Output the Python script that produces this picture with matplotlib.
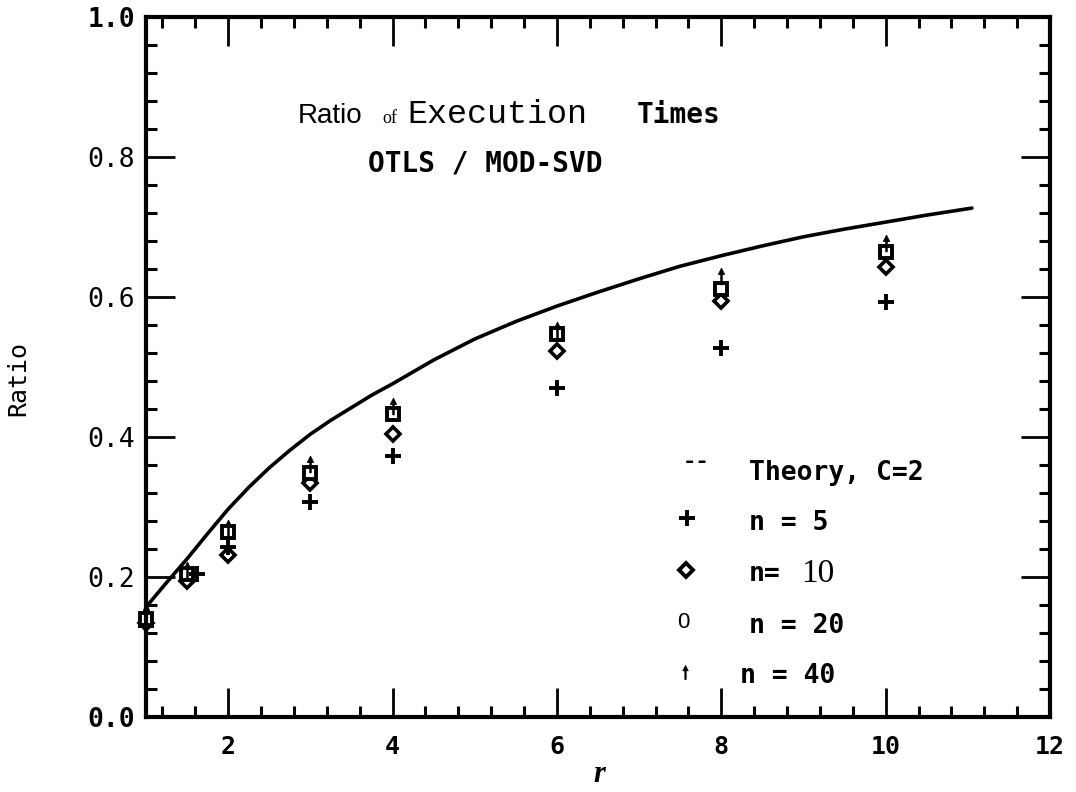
import matplotlib
matplotlib.use("Agg")
import matplotlib.pyplot as plt
from matplotlib.path import Path
from matplotlib.ticker import MultipleLocator

# theory curve, C = 2
r_theory = [1.0, 1.25, 1.5, 1.75, 2.0, 2.25, 2.5, 2.75, 3.0, 3.25, 3.5, 3.75, 4.0,
            4.5, 5.0, 5.5, 6.0, 6.5, 7.0, 7.5, 8.0, 8.5, 9.0, 9.5, 10.0, 10.5, 11.05]
ratio_theory = [0.157, 0.192, 0.226, 0.262, 0.297, 0.328, 0.356, 0.381, 0.404, 0.424,
                0.442, 0.460, 0.476, 0.510, 0.540, 0.565, 0.587, 0.607, 0.626, 0.644,
                0.659, 0.673, 0.686, 0.697, 0.707, 0.717, 0.727]

# measured ratios
r_meas = [1, 1.5, 2, 3, 4, 6, 8, 10]
r_n5 = [1, 1.62, 2, 3, 4, 6, 8, 10]
ratio_n5 = [0.13, 0.205, 0.243, 0.307, 0.373, 0.470, 0.527, 0.593]
ratio_n10 = [0.135, 0.194, 0.232, 0.335, 0.404, 0.523, 0.594, 0.643]
ratio_n20 = [0.14, 0.204, 0.264, 0.348, 0.433, 0.547, 0.612, 0.665]
ratio_n40 = [0.15, 0.21, 0.27, 0.362, 0.444, 0.553, 0.630, 0.677]

x_ticks = [2, 4, 6, 8, 10, 12]
y_ticks = [0.0, 0.2, 0.4, 0.6, 0.8, 1.0]
y_labels = ["0.0", "0.2", "0.4", "0.6", "0.8", "1.0"]

MONO = "DejaVu Sans Mono"

# small up arrow marker
arrow = Path([(-0.09, -1.0), (0.09, -1.0), (0.09, 0.25), (0.38, 0.25), (0.0, 1.0),
              (-0.38, 0.25), (-0.09, 0.25), (-0.09, -1.0)],
             [Path.MOVETO] + [Path.LINETO] * 6 + [Path.CLOSEPOLY])

fig = plt.figure(figsize=(10.76, 7.92), dpi=100)
ax = fig.add_axes([146 / 1076, 75 / 792, 904 / 1076, 700 / 792])

ax.plot(r_theory, ratio_theory, color="black", lw=2.6, solid_capstyle="round",
        solid_joinstyle="round")

pt = dict(ls="none", color="black", clip_on=False)
ax.plot(r_meas, ratio_n10, marker="D", ms=7, mew=2.6, mfc="white", **pt)
ax.plot(r_meas, ratio_n20, marker="s", ms=8.5, mew=2.8, mfc="white", **pt)
ax.plot(r_n5, ratio_n5, marker="+", ms=11, mew=2.8, **pt)
ax.plot(r_meas, ratio_n40, marker=arrow, ms=12, mew=0.6, **pt)

ax.set_xlim(1, 12)
ax.set_ylim(0, 1)
ax.set_xticks(x_ticks)
ax.set_xticklabels([str(t) for t in x_ticks], fontfamily=MONO, fontweight="bold", fontsize=18)
ax.set_yticks(y_ticks)
ax.set_yticklabels(y_labels, fontfamily=MONO, fontsize=19)
for lab in ax.get_yticklabels():
    if lab.get_text() in ("0.0", "1.0"):
        lab.set_fontweight("bold")
ax.xaxis.set_minor_locator(MultipleLocator(0.4))
ax.yaxis.set_minor_locator(MultipleLocator(0.04))
ax.tick_params(which="both", direction="in", top=True, right=True, color="black")
ax.tick_params(which="major", length=21, width=2)
ax.tick_params(which="minor", length=8, width=2.2)
ax.tick_params(axis="x", which="major", pad=13)
ax.tick_params(axis="y", which="major", pad=8)
for sp in ax.spines.values():
    sp.set_linewidth(3)

ax.set_ylabel("Ratio", fontfamily=MONO, fontsize=18)
ax.yaxis.set_label_coords(-0.128, 0.484)
ax.set_xlabel("r", fontfamily="Liberation Serif", fontweight="bold", fontstyle="italic", fontsize=22)
ax.xaxis.set_label_coords(0.502, -0.062)

# heading inside the frame
tr = ax.transAxes
ax.text(0.168, 0.8486, "Ratio", transform=tr, fontfamily="Liberation Sans", fontsize=20, va="baseline")
ax.text(0.261, 0.8486, "of", transform=tr, fontfamily="Liberation Serif", fontsize=13, va="baseline")
ax.text(0.2887, 0.8486, "Execution", transform=tr, fontfamily="Liberation Mono", fontsize=24, va="baseline")
ax.text(0.543, 0.8486, "Times", transform=tr, fontfamily=MONO, fontweight="bold", fontsize=20, va="baseline")
ax.text(0.2456, 0.7786, "OTLS / MOD-SVD", transform=tr, fontfamily=MONO, fontweight="bold",
        fontsize=20, va="baseline")

# key
key = dict(transform=tr, fontfamily=MONO, fontweight="bold", fontsize=19, va="baseline")
ax.text(0.6084, 0.364, "--", transform=tr, fontfamily=MONO, fontweight="bold", fontsize=16,
        ha="center", va="center")
ax.text(0.667, 0.3386, "Theory, C=2", **key)
ax.plot([0.5985], [0.284], transform=tr, marker="+", ms=11, mew=2.8, color="black")
ax.text(0.667, 0.267, "n = 5", **key)
ax.plot([0.597], [0.21], transform=tr, marker="D", ms=7, mew=2.8, mfc="white", color="black")
ax.text(0.667, 0.194, "n=", **key)
ax.text(0.725, 0.193, "10", transform=tr, fontfamily="Liberation Serif", fontsize=24, va="baseline")
ax.text(0.594, 0.1357, "0", transform=tr, fontfamily="Liberation Sans", fontsize=16,
        ha="center", va="center")
ax.text(0.667, 0.12, "n = 20", **key)
ax.plot([0.596], [0.064], transform=tr, marker=arrow, ms=10, mew=0.6, color="black")
ax.text(0.657, 0.0486, "n = 40", **key)

fig.savefig("out.png", dpi=100)
